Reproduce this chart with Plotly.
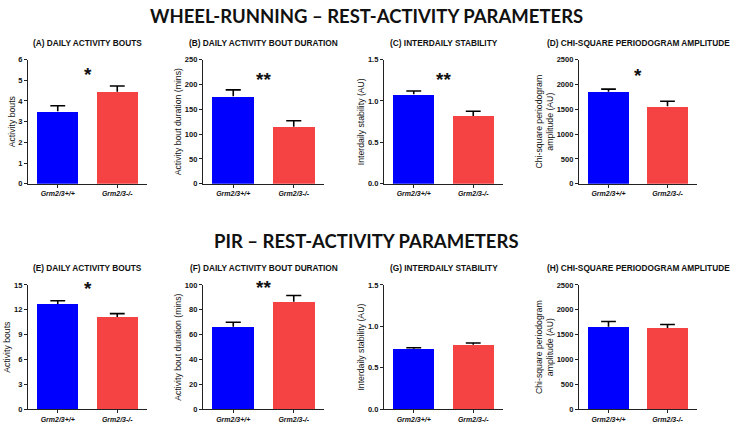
import plotly.graph_objects as go

# ---------------- data ----------------
groups = ["Grm2/3+/+", "Grm2/3-/-"]

panel_titles = [
    "(A) DAILY ACTIVITY BOUTS", "(B) DAILY ACTIVITY BOUT DURATION",
    "(C) INTERDAILY STABILITY", "(D) CHI-SQUARE PERIODOGRAM AMPLITUDE",
    "(E) DAILY ACTIVITY BOUTS", "(F) DAILY ACTIVITY BOUT DURATION",
    "(G) INTERDAILY STABILITY", "(H) CHI-SQUARE PERIODOGRAM AMPLITUDE",
]
y_titles = [
    "Activity bouts", "Activity bout duration (mins)",
    "Interdaily stability (AU)", "Chi-square periodogram<br>amplitude (AU)",
    "Activity bouts", "Activity bout duration (mins)",
    "Interdaily stability (AU)", "Chi-square periodogram<br>amplitude (AU)",
]
means_wt = [3.5, 176, 1.08, 1850, 12.7, 66.5, 0.73, 1660]
means_ko = [4.45, 115, 0.82, 1560, 11.15, 86.5, 0.78, 1635]
sem_wt = [0.27, 13, 0.04, 55, 0.4, 3.5, 0.012, 105]
sem_ko = [0.27, 12, 0.055, 100, 0.4, 5, 0.02, 70]
y_max = [6, 250, 1.5, 2500, 15, 100, 1.5, 2500]
y_dtick = [1, 50, 0.5, 500, 3, 20, 0.5, 500]
y_fmt = ["d", "d", ".1f", "d", "d", "d", ".1f", "d"]
significance = ["*", "**", "**", "*", "*", "**", "", ""]
section_titles = ["WHEEL-RUNNING \u2013 REST-ACTIVITY PARAMETERS",
                  "PIR \u2013 REST-ACTIVITY PARAMETERS"]

# ---------------- layout helpers ----------------
W, H = 733, 429
BLUE = "#0000FF"
RED = "#F54343"
FONT = "Liberation Sans, Arial, sans-serif"
x_px = [(28, 147), (203, 324), (384, 503), (579, 697)]
y_px = [(56.7, 183.7), (287, 414)]
BAR_W = 0.69
CAP = 0.125
star_pos = [0.88, 0.84, 0.84, 0.87, 0.97, 0.98, 0, 0]

fig = go.Figure()
annotations = []

for i in range(8):
    row, col = divmod(i, 4)
    n = i + 1
    xa = "x" if n == 1 else f"x{n}"
    ya = "y" if n == 1 else f"y{n}"
    xl, xr = x_px[col]
    yt, yb = y_px[row]
    xdom = [xl / W, xr / W]
    ydom = [1 - yb / H, 1 - yt / H]

    vals = [means_wt[i], means_ko[i]]
    errs = [sem_wt[i], sem_ko[i]]

    fig.add_trace(go.Bar(
        x=[0, 1], y=vals, width=BAR_W,
        marker=dict(color=[BLUE, RED], line=dict(width=0)),
        xaxis=xa, yaxis=ya, showlegend=False, hoverinfo="skip"))

    ex, ey = [], []
    for k in range(2):
        ex += [k, k, None, k - CAP, k + CAP, None]
        ey += [vals[k], vals[k] + errs[k], None,
               vals[k] + errs[k], vals[k] + errs[k], None]
    fig.add_trace(go.Scatter(
        x=ex, y=ey, mode="lines", line=dict(color="black", width=1.6),
        xaxis=xa, yaxis=ya, showlegend=False, hoverinfo="skip",
        cliponaxis=False))

    axis_common = dict(showline=True, linecolor="#222", linewidth=1.3,
                       ticks="outside", tickcolor="#222", ticklen=3,
                       tickwidth=1.2, showgrid=False, zeroline=False)
    fig.layout[f"xaxis{'' if n == 1 else n}"] = dict(
        domain=xdom, anchor=ya, range=[-0.5, 1.5],
        tickvals=[0, 1],
        ticktext=[f"<b><i>{g}</i></b>" for g in groups],
        tickfont=dict(family=FONT, size=7, color="#111"),
        **axis_common)
    fig.layout[f"yaxis{'' if n == 1 else n}"] = dict(
        domain=ydom, anchor=xa, range=[0, y_max[i]],
        dtick=y_dtick[i], tick0=0, tickformat=y_fmt[i],
        tickfont=dict(family=FONT, size=7.5, color="#111", weight="bold"),
        title=dict(text=y_titles[i], standoff=1,
                   font=dict(family=FONT, size=8.7, color="#111")),
        **axis_common)

    # panel title
    annotations.append(dict(
        text=f"<b>{panel_titles[i]}</b>", xref=f"{xa} domain",
        yref=f"{ya} domain", x=0.5, y=1.0, yshift=17,
        xanchor="center", yanchor="middle", showarrow=False,
        font=dict(family=FONT, size=8.3, color="#111")))

for i in range(8):
    if not significance[i]:
        continue
    n = i + 1
    xa = "x" if n == 1 else f"x{n}"
    ya = "y" if n == 1 else f"y{n}"
    annotations.append(dict(
        text=f"<b>{significance[i]}</b>", xref=xa, yref=f"{ya} domain",
        x=0.5, y=star_pos[i], xanchor="center", yanchor="middle",
        showarrow=False,
        font=dict(family=FONT, size=19, color="#111")))

for j, t in enumerate(section_titles):
    annotations.append(dict(
        text=f"<b>{t}</b>", xref="paper", yref="paper",
        x=366 / W, y=1 - [12, 242][j] / H, xanchor="center", yanchor="middle",
        showarrow=False,
        font=dict(family="Lato, Open Sans", size=18.5, color="#111")))

fig.update_layout(
    width=W, height=H, margin=dict(l=0, r=0, t=0, b=0),
    paper_bgcolor="white", plot_bgcolor="white", bargap=0,
    annotations=annotations)

fig.write_html("out.html",
               config={"displayModeBar": False},
               post_script="document.body.style.margin='0';"
                           "document.body.style.padding='0';")
